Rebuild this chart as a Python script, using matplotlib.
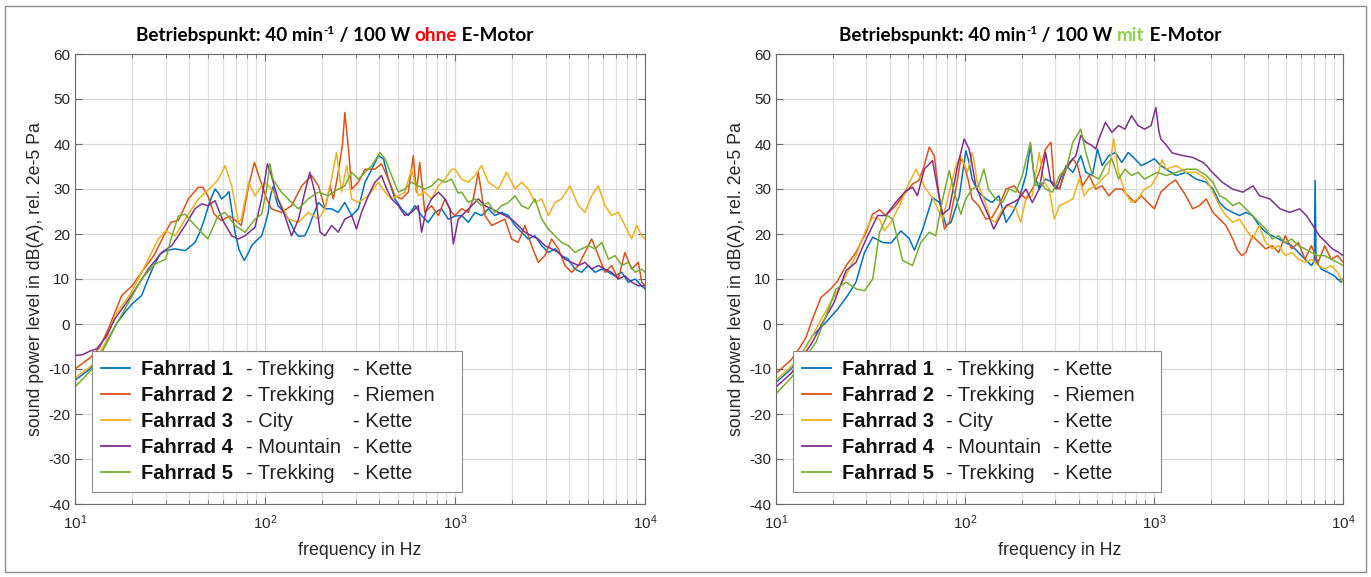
import matplotlib
matplotlib.use("Agg")
import matplotlib.pyplot as plt
from matplotlib.patches import Rectangle
from matplotlib.ticker import LogLocator, MultipleLocator, NullFormatter

# ---------------- DATA ----------------
bike_names = ["Fahrrad 1", "Fahrrad 2", "Fahrrad 3", "Fahrrad 4", "Fahrrad 5"]
bike_types = ["- Trekking", "- Trekking", "- City", "- Mountain", "- Trekking"]
bike_drive = ["- Kette", "- Riemen", "- Kette", "- Kette", "- Kette"]
colors = ["#0072BD", "#D95319", "#EDB120", "#7E2F8E", "#77AC30"]

# Left panel: ohne E-Motor
L1_f = [10, 12, 13, 15, 16.5, 18.3, 20, 22.4, 24, 26, 28, 30, 33.6, 38, 42.8, 45.5, 48, 51, 54.6, 57, 59, 62, 64.6, 67, 69.5, 73, 77.8, 81, 85, 90, 96, 100, 104, 106, 110, 113, 117, 125, 133, 144, 150, 162, 170, 176, 191, 207, 224, 243, 263, 286, 310, 336, 365, 395, 420, 446, 483, 523, 568, 615, 667, 722, 785, 850, 922, 1000, 1084, 1175, 1274, 1381, 1497, 1623, 1760, 1910, 2070, 2240, 2430, 2635, 2860, 3100, 3360, 3640, 3950, 4280, 4640, 5030, 5460, 5920, 6420, 6960, 7540, 8170, 8860, 9610, 10000]
L1_db = [-12.5, -10, -8, -3.3, 0, 2.6, 4.5, 6.3, 9.5, 13, 15.5, 16.3, 16.7, 16.3, 18.1, 20.5, 23.3, 27, 30, 29, 27.8, 28.5, 29.4, 25, 20.4, 16.5, 14.1, 15.5, 17.4, 18.5, 19.6, 22, 24.8, 27.8, 30.5, 28.5, 26.3, 25, 23.3, 20.4, 19.5, 19.6, 21.5, 23.3, 27, 25.6, 25.6, 24.8, 27, 24.1, 25.6, 31.5, 34.4, 37.4, 36.7, 32.2, 27.8, 25.6, 24.1, 26.3, 24.1, 22.6, 24.8, 25.6, 23.3, 24, 24.1, 22.6, 24.8, 24.1, 25.6, 24.1, 24.8, 24.1, 21.9, 20.4, 18.9, 19.6, 17.4, 15.9, 16.7, 15.2, 14.4, 12.2, 11.5, 13, 11.5, 12.2, 11.5, 10.7, 11.5, 9.3, 10, 8.5, 7.8]

L2_f = [10, 12, 13.5, 15, 17.6, 20, 22.4, 26, 30, 32, 35, 39.5, 44.6, 47, 50, 54, 59, 65, 72, 75, 82, 88, 94, 102, 108, 122, 138, 156, 176, 191, 207, 220, 229, 243, 256, 263, 269, 275, 286, 310, 336, 379, 410, 446, 483, 523, 568, 603, 627, 652, 694, 753, 818, 885, 960, 1000, 1084, 1175, 1250, 1326, 1438, 1560, 1690, 1830, 1985, 2150, 2335, 2530, 2745, 2975, 3225, 3500, 3790, 4110, 4460, 4830, 5240, 5680, 6160, 6670, 7230, 7840, 8500, 9220, 9610, 10000]
L2_db = [-10, -7.5, -5.2, -1, 6.3, 8.5, 11.5, 15.2, 20.4, 22.6, 23, 27.8, 30.4, 30.4, 28.5, 24.4, 23, 24, 22.6, 21.9, 30.7, 35.9, 32.2, 27.8, 25.6, 24.8, 26.3, 30.7, 33, 30.7, 25.6, 30.7, 27.8, 33.7, 40, 47, 43, 38.9, 30, 31.5, 34.4, 34.4, 35.6, 32.2, 28.5, 27.8, 29.3, 37.4, 29.3, 35.9, 24.8, 26.3, 24.1, 27.8, 24.8, 24.1, 25.6, 24.8, 28, 33.7, 24.1, 21.9, 22.6, 23.3, 18.9, 18.1, 21.9, 17.4, 13.7, 15.2, 18.9, 16.7, 13, 11.5, 13, 15.9, 18.9, 15.2, 11.5, 13, 10, 15.9, 12.2, 13.7, 9.3, 8.5]

L3_f = [10, 12, 13, 14.5, 16.2, 19.8, 23.4, 27.5, 30, 33.6, 38, 44.6, 52, 57, 61.6, 66.8, 72.4, 75, 82, 88.6, 96, 100, 108, 117, 133, 150, 169, 191, 207, 224, 238, 253, 269, 286, 310, 350, 395, 428, 464, 503, 545, 590, 641, 694, 753, 818, 885, 960, 1000, 1084, 1175, 1274, 1381, 1497, 1690, 1870, 2070, 2240, 2430, 2635, 2860, 3100, 3360, 3640, 4030, 4460, 4830, 5240, 5680, 6160, 6670, 7230, 7840, 8500, 9040, 9610, 10000]
L3_db = [-12, -9.5, -8, -4, 1.9, 7, 13, 18.9, 20.7, 19.6, 23.3, 27.8, 30.4, 32.2, 35.2, 30.7, 22.6, 23.3, 31.5, 28.5, 30.7, 31.5, 30, 27.8, 23.3, 22.6, 24.8, 23.3, 25.6, 32.2, 38.1, 29.3, 35.2, 27.8, 27, 28.5, 31.5, 29.3, 27.8, 28.5, 29.3, 34.4, 28.5, 29.3, 27.8, 30.7, 32.2, 34.4, 34.4, 32.2, 31.5, 33, 35.2, 31.5, 30, 33.7, 30, 31.5, 30, 27, 27.8, 24.1, 27, 27.8, 30.7, 26.3, 24.8, 28.5, 30.7, 26.3, 24.1, 24.8, 21.9, 18.9, 21.9, 19.6, 18.9]

L4_f = [10, 11, 12, 13, 14.5, 16.2, 19.8, 24.3, 28.6, 32.3, 38, 42.8, 46.4, 50, 54.6, 60, 66.8, 72.4, 78.5, 88.6, 96, 103, 108, 117, 127, 138, 150, 162, 172, 183, 195, 207, 224, 243, 263, 286, 303, 322, 350, 379, 410, 437, 464, 503, 545, 590, 641, 667, 708, 753, 818, 885, 940, 980, 1040, 1130, 1225, 1326, 1438, 1560, 1690, 1830, 1985, 2150, 2335, 2530, 2745, 2975, 3225, 3500, 3790, 4110, 4460, 4830, 5240, 5680, 6160, 6670, 7230, 7840, 8500, 9220, 10000]
L4_db = [-7, -6.8, -6, -5.5, -3, 1.1, 6.3, 12.2, 15.9, 17.4, 21.9, 25.6, 26.7, 26.3, 27.4, 23, 19.6, 18.9, 19.6, 21.5, 27.8, 35.6, 33, 27.8, 24.1, 19.6, 23.3, 29.3, 33.7, 29.3, 20.4, 19.6, 21.9, 20.4, 23.3, 24.1, 21.1, 24.8, 28.5, 31.5, 33, 30, 27.8, 26.3, 24.1, 24.8, 26.3, 20.4, 25.6, 27.8, 29.3, 27.8, 25.6, 17.8, 23.3, 24.8, 26.3, 27.8, 26.3, 25.6, 24.8, 24.1, 23.3, 21.9, 20.4, 19.6, 18.9, 17.4, 16.7, 15.9, 14.4, 13.7, 13, 13.7, 12.2, 13, 12.2, 11.5, 10, 10.7, 9.3, 8.5, 8.5]

L5_f = [10, 12, 13, 15, 16.5, 18.3, 22.4, 26.3, 30, 32, 35, 38, 42.8, 50, 56.6, 61.6, 69.5, 78.5, 88.6, 96, 102, 106, 110, 122, 138, 150, 169, 191, 215, 243, 263, 286, 310, 336, 365, 403, 428, 464, 503, 545, 590, 641, 694, 753, 818, 885, 960, 1040, 1084, 1175, 1274, 1381, 1497, 1623, 1760, 1910, 2070, 2240, 2430, 2635, 2860, 3100, 3360, 3640, 3950, 4280, 4640, 5030, 5460, 5920, 6420, 6960, 7540, 8170, 8860, 9610, 10000]
L5_db = [-14, -10.5, -8.5, -3.5, 0, 3.3, 10, 13.3, 14.4, 18.9, 24, 24.4, 21.9, 18.9, 24, 24.8, 21.9, 20.4, 23.3, 24.4, 30, 35.6, 32.2, 29.3, 27, 25.6, 27.8, 29.3, 28.5, 30, 30.7, 33.7, 32.2, 33.7, 35.2, 38.1, 36.7, 33, 29.3, 30, 31.5, 30.7, 30, 30.7, 32.2, 31.5, 32.2, 29, 29.3, 27, 27.8, 26.3, 27, 24.8, 26.3, 27, 28.5, 26.3, 25.6, 27.8, 23.3, 21.1, 19.6, 18.1, 17.4, 15.9, 16.7, 17.4, 16.7, 18.1, 14.4, 15.2, 13, 13.7, 11.5, 12.2, 11.5]

# Right panel: mit E-Motor
R1_f = [10, 12, 13.5, 15.6, 18.4, 21.2, 23.9, 26.5, 29.4, 32.5, 36.7, 40.6, 45.8, 50.8, 54, 59.8, 67.3, 73.2, 79.4, 84.4, 93.4, 101, 105, 109, 118, 129, 139, 151, 165, 179, 193, 210, 222, 231, 247, 267, 291, 316, 343, 372, 410, 436, 472, 502, 532, 576, 624, 675, 730, 792, 857, 928, 1005, 1086, 1160, 1310, 1480, 1670, 1890, 2050, 2220, 2400, 2610, 2830, 3060, 3320, 3600, 3900, 4220, 4570, 4950, 5360, 5810, 6290, 6810, 7050, 7120, 7200, 7680, 8320, 9010, 9760, 10000]
R1_db = [-13, -10, -7, -2.6, 0.4, 3.3, 6.3, 9.3, 15.9, 19.3, 18.1, 18, 20.7, 18.9, 16.4, 21.1, 28.1, 27, 21.9, 22.6, 28.5, 38.5, 36, 32.2, 29.3, 27.8, 27, 28.5, 22.6, 24.8, 27.8, 33, 39.6, 33.7, 30, 32.2, 31.5, 30, 35.2, 33.7, 37.4, 33.7, 33, 38.9, 35.2, 37.4, 38.1, 35.9, 38.1, 36.7, 35.2, 35.9, 36.7, 35.2, 34.4, 33, 33.7, 32.2, 31.5, 30, 27, 25.6, 24.8, 24.1, 24.8, 24.1, 21.9, 20.4, 19.6, 18.9, 18.1, 17.4, 15.9, 14.4, 13, 14, 31.9, 14, 12.2, 11.5, 10.7, 9.3, 10]

R2_f = [10, 12, 13.3, 14.4, 15.6, 17.3, 19.5, 21.2, 23.5, 26.5, 30, 32.4, 35.3, 38, 43, 48.7, 52.8, 57, 60.9, 64.7, 68.8, 73.2, 77.8, 82.6, 89.5, 95, 98, 104, 109, 118, 129, 139, 151, 165, 182, 193, 210, 227, 247, 267, 285, 297, 316, 343, 372, 394, 419, 454, 491, 532, 576, 624, 675, 730, 792, 857, 928, 1005, 1086, 1200, 1300, 1450, 1540, 1600, 1740, 1890, 2050, 2220, 2400, 2610, 2750, 2910, 3060, 3320, 3600, 3900, 4220, 4570, 4950, 5360, 5810, 6290, 6810, 7380, 8000, 8650, 9350, 10000]
R2_db = [-11, -8, -5.4, -3, 1.1, 5.9, 7.8, 9.6, 13, 15.9, 20.4, 24.4, 25.4, 24.1, 26.3, 29.3, 31.1, 31.9, 35.2, 39.3, 37.4, 27.8, 21.1, 22.6, 30, 36.7, 36, 32, 27.8, 26.3, 23.3, 23.7, 26.3, 30, 30.7, 29.3, 27.8, 30, 33.7, 38.9, 40.4, 30.7, 30, 34.4, 36.7, 35.2, 30.7, 33, 30, 30.7, 28.5, 30, 30, 28.5, 27, 28.5, 27, 25.6, 29.3, 31, 32, 29, 27, 25.6, 26.3, 27.8, 24.8, 23.3, 21.9, 18.9, 16.5, 15.2, 15.9, 19.6, 18.1, 16.7, 17.4, 15.9, 19.6, 16.7, 18.1, 14.4, 17.4, 13.7, 17.4, 14.4, 15.2, 13.7]

R3_f = [10, 12, 13.5, 15, 17, 20, 22.5, 26.5, 30, 32.5, 35.3, 37.4, 40.6, 45, 49.8, 55, 58.3, 62, 67.3, 71.7, 76.2, 82.6, 89.5, 95, 103, 109, 112, 116, 126, 137, 145, 158, 171, 186, 197, 210, 227, 247, 262, 279, 297, 316, 343, 372, 402, 428, 454, 491, 532, 576, 612, 649, 702, 760, 823, 891, 965, 1044, 1100, 1160, 1310, 1480, 1670, 1890, 2050, 2220, 2400, 2610, 2830, 3060, 3320, 3600, 3900, 4220, 4570, 4950, 5360, 5810, 6290, 6810, 7380, 8000, 8650, 9350, 10000]
R3_db = [-12.5, -9.5, -7, -4, 0.4, 5.6, 9.3, 15.2, 21.1, 23.7, 23.3, 20.7, 22.6, 26.3, 30.7, 34.4, 32.2, 30, 28.1, 25.6, 23.3, 29.3, 35.2, 37.4, 33.7, 38.1, 36, 31.5, 27.8, 23.3, 22.6, 25.6, 26.3, 25.6, 22.6, 27.8, 28.5, 38.1, 31.5, 30, 23.3, 26.3, 27, 27.8, 32.2, 28.5, 30, 30.7, 32.2, 33.7, 41.1, 33.7, 29.3, 27, 27.8, 30, 30.7, 33, 36.5, 34.4, 35.2, 33.7, 33.7, 32.2, 29.3, 26.3, 24.1, 22.6, 23.3, 21.1, 18.9, 21.9, 18.1, 16.7, 17.4, 15.2, 15.9, 14.4, 13.7, 14.4, 13, 12.2, 13, 11.5, 9.3]

R4_f = [10, 12, 13.5, 15.6, 17.7, 20.3, 23.5, 26.5, 30, 34.5, 38, 43, 48.7, 52.8, 56, 60.9, 67.3, 71.7, 76.2, 82.6, 91.4, 99, 105, 107, 114, 124, 133, 142, 151, 165, 179, 193, 210, 227, 247, 267, 285, 304, 329, 357, 386, 410, 436, 472, 491, 511, 553, 599, 649, 702, 760, 823, 891, 965, 1023, 1060, 1086, 1150, 1250, 1400, 1600, 1800, 1900, 2000, 2300, 2600, 2950, 3340, 3620, 4100, 4640, 5230, 5900, 6400, 6930, 7500, 8150, 8800, 9500, 10000]
R4_db = [-14, -11, -8, -4, 0.4, 4.8, 11.9, 13.7, 18.9, 24.1, 24.1, 27, 29.6, 30.4, 28.5, 34.4, 36.3, 30, 24.4, 25.6, 35.2, 41.1, 38.9, 37.4, 30.7, 27, 24.1, 21.1, 23.3, 26.3, 27, 27.8, 30, 27, 30, 38.1, 31.5, 30, 33.7, 35.9, 37.4, 41.9, 40.4, 39.6, 38.9, 41.1, 44.8, 42.6, 44.1, 43.3, 46.3, 44.1, 43.3, 44.1, 48.1, 43, 41.1, 40, 38, 37.5, 37, 36, 35.2, 34, 31.5, 30, 29.3, 30.7, 28.5, 27.8, 25.6, 24.8, 25.6, 24.1, 21.9, 19.6, 18.1, 16.7, 15.9, 15.2]

R5_f = [10, 12, 14, 16.3, 18.4, 20.8, 23.5, 26.5, 29.4, 32.5, 35.3, 38.8, 41.4, 46.8, 52.8, 58.3, 64.7, 70, 76.2, 82.6, 87.6, 95, 101, 109, 118, 126, 133, 145, 158, 171, 186, 201, 222, 235, 252, 267, 291, 316, 343, 372, 410, 436, 472, 511, 553, 599, 649, 702, 760, 823, 891, 965, 1044, 1160, 1310, 1480, 1670, 1890, 2050, 2220, 2400, 2610, 2830, 3060, 3320, 3600, 3900, 4220, 4570, 4950, 5360, 5810, 6290, 6810, 7380, 8000, 8650, 9350, 10000]
R5_db = [-15.5, -12, -8, -4, 1.9, 7.8, 9.3, 7.8, 7.4, 10, 20.4, 24.1, 23.3, 14.1, 13, 18.1, 20.4, 19.6, 27.8, 34.1, 29.3, 24.4, 27.8, 30, 30.7, 34.4, 30, 27.8, 27, 30, 29.3, 33, 40.4, 30.7, 31.5, 30, 29.3, 33, 34.4, 40.4, 43.3, 38.1, 33, 32.2, 35.2, 36.7, 32.2, 34.4, 33, 33.7, 32.2, 33, 33.7, 33, 33.7, 34.4, 34.4, 33, 31.5, 28.5, 27.8, 26.3, 27, 25.6, 24.1, 22.6, 21.1, 18.9, 19.6, 18.1, 18.9, 17.4, 16.7, 15.9, 15.2, 15.2, 14.4, 13.7, 13]

left_series = [(L1_f, L1_db), (L2_f, L2_db), (L3_f, L3_db), (L4_f, L4_db), (L5_f, L5_db)]
right_series = [(R1_f, R1_db), (R2_f, R2_db), (R3_f, R3_db), (R4_f, R4_db), (R5_f, R5_db)]

title_word_left = "ohne"
title_word_right = "mit"
title_color_left = "#FF0000"
title_color_right = "#92D050"

# ---------------- FIGURE ----------------
W, H = 1371, 577
DPI = 100
plt.rcParams['font.family'] = ['Liberation Sans', 'DejaVu Sans']
plt.rcParams['axes.unicode_minus'] = False
fig = plt.figure(figsize=(W / DPI, H / DPI), dpi=DPI, facecolor="white")

fig.patches.append(Rectangle((5 / W, 5 / H), (W - 10) / W, (H - 11) / H,
                             transform=fig.transFigure, fill=False,
                             edgecolor="#8c8c8c", linewidth=1.0))

ax_pos = [
    [75 / W, (H - 504) / H, 570 / W, 450 / H],
    [776 / W, (H - 504) / H, 567 / W, 450 / H],
]

spine_color = "#6a6a6a"
text_color = "#262626"
LEG_FS = 14.5


def setup_axes(ax):
    ax.set_xscale("log")
    ax.set_xlim(10, 10000)
    ax.set_ylim(-40, 60)
    ax.yaxis.set_major_locator(MultipleLocator(10))
    ax.xaxis.set_major_locator(LogLocator(base=10, numticks=10))
    ax.xaxis.set_minor_locator(LogLocator(base=10, subs=range(2, 10), numticks=100))
    ax.xaxis.set_minor_formatter(NullFormatter())
    ax.grid(True, which="major", axis="both", color="#d9d9d9", linewidth=0.9)
    ax.grid(True, which="minor", axis="x", color="#dedede", linewidth=0.9)
    ax.set_axisbelow(True)
    ax.tick_params(which="both", direction="in", top=True, right=True,
                   colors=spine_color, labelcolor=text_color, labelsize=11)
    ax.tick_params(which="major", length=5, width=0.8)
    ax.tick_params(which="minor", length=3, width=0.6)
    ax.tick_params(axis="x", which="major", pad=7)
    for s in ax.spines.values():
        s.set_color(spine_color)
        s.set_linewidth(0.8)
    ax.set_xlabel("frequency in Hz", fontsize=12.8, color=text_color, labelpad=7)
    ax.set_ylabel("sound power level in dB(A), rel. 2e-5 Pa", fontsize=12.8,
                  color=text_color, labelpad=3)


axes = []
for pos, series in zip(ax_pos, [left_series, right_series]):
    ax = fig.add_axes(pos)
    setup_axes(ax)
    lines = []
    for (f, db), c in zip(series, colors):
        ln, = ax.plot(f, db, color=c, linewidth=1.1)
        lines.append(ln)
    leg = ax.legend(lines, bike_names, loc="upper left",
                    bbox_to_anchor=(0.0298, 0.031, 0.65, 0.309), mode="expand",
                    borderaxespad=0, fancybox=False, framealpha=1, shadow=False,
                    prop={"family": "Liberation Sans", "weight": "bold", "size": LEG_FS},
                    handlelength=1.45, handletextpad=0.55, borderpad=0.45,
                    labelspacing=0.35)
    leg.get_frame().set_edgecolor("#8a8a8a")
    leg.get_frame().set_linewidth(0.8)
    for line in leg.get_lines():
        line.set_linewidth(1.3)
    for txt, typ, drv in zip(leg.get_texts(), bike_types, bike_drive):
        txt.set_color("#111111")
        for xcol, s in [(0.300, typ), (0.4877, drv)]:
            ax.annotate(s, xy=(xcol, 0.5), xycoords=(ax.transAxes, txt),
                        va="center", ha="left", fontsize=LEG_FS, color="#222222",
                        family="Liberation Sans", zorder=6)
    axes.append(ax)

# ---------------- TITLES (multi-colour) ----------------
renderer = fig.canvas.get_renderer()


def draw_title(center_px, y_px, word, word_color):
    fs = 13.6
    parts = [
        ("Betriebspunkt: 40 min", "black", fs, 0),
        ("-1", "black", fs * 0.62, 7.0),
        (" / 100 W ", "black", fs, 0),
        (word, word_color, fs, 0),
        (" E-Motor", "black", fs, 0),
    ]
    texts = []
    total = 0
    for s, c, size, dy in parts:
        t = fig.text(0, 0, s, color=c, fontsize=size, fontweight="bold",
                     family=["Lato", "DejaVu Sans"], va="baseline", ha="left")
        w = t.get_window_extent(renderer).width
        texts.append((t, w, dy))
        total += w
    x = center_px - total / 2
    for t, w, dy in texts:
        t.set_position((x / W, (H - y_px + dy) / H))
        x += w


draw_title(335, 41, title_word_left, title_color_left)
draw_title(1030, 41, title_word_right, title_color_right)

fig.savefig("out.png", dpi=DPI, facecolor="white")
